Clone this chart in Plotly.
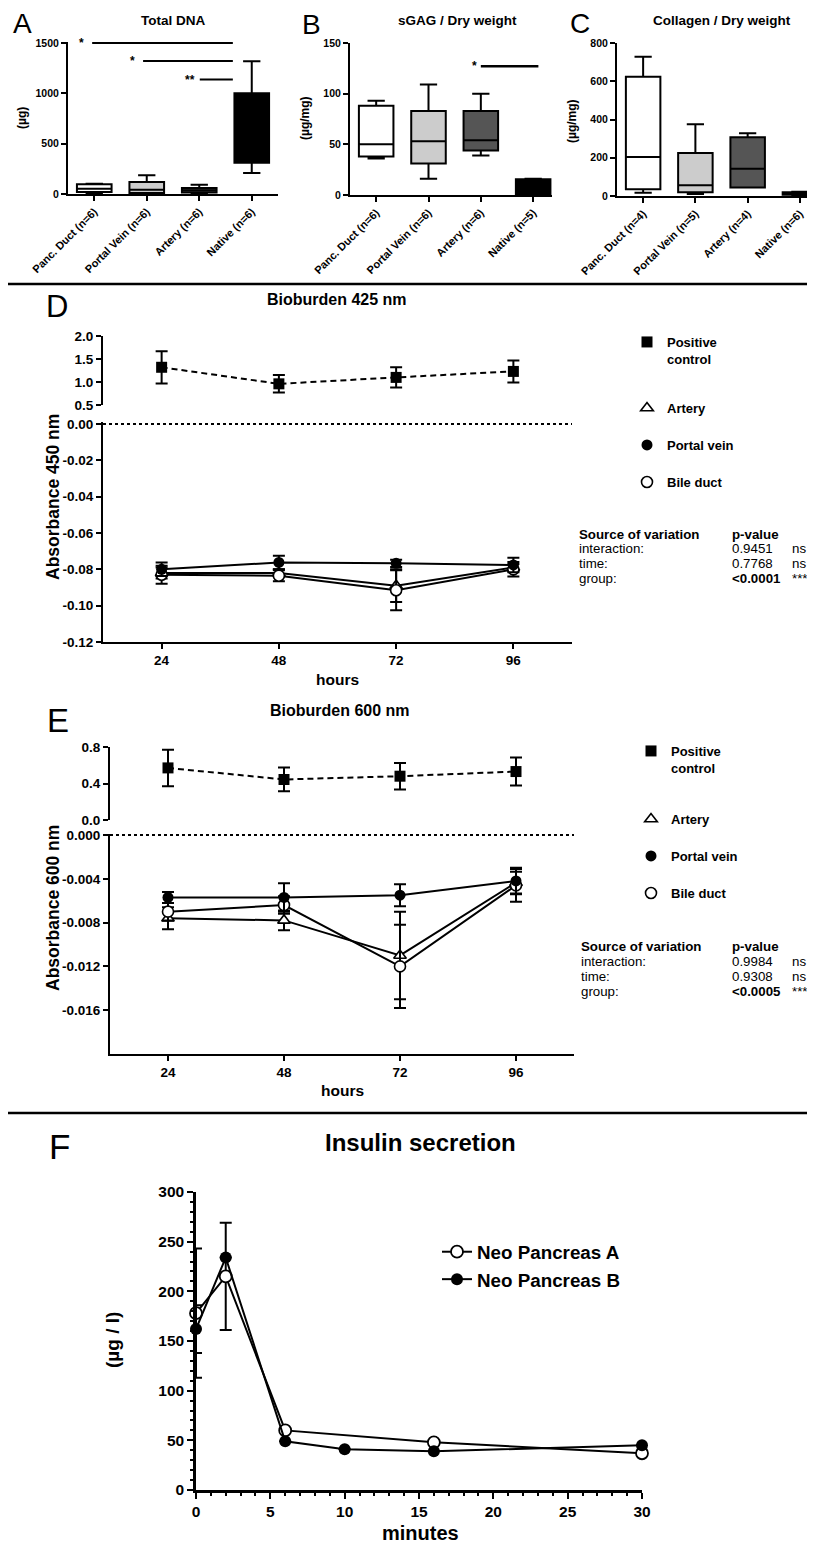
import plotly.graph_objects as go

# page is 815x1547; the html body keeps its default 8px margin, so the figure is drawn 8px in
PAGE_W, PAGE_H, OFF = 815, 1547, 8
W, H = PAGE_W - OFF, PAGE_H - OFF
FONT = "Liberation Sans"

# ---------------- data: panels A-C (box plots) ----------------
cats_A = ["Panc. Duct (n=6)", "Portal Vein (n=6)", "Artery (n=6)", "Native (n=6)"]
dna_low = [5, 0, 5, 208]
dna_q1 = [20, 10, 16, 310]
dna_med = [53, 43, 36, 620]
dna_q3 = [97, 119, 59, 1002]
dna_high = [102, 185, 92, 1319]

cats_B = ["Panc. Duct (n=6)", "Portal Vein (n=6)", "Artery (n=6)", "Native (n=5)"]
sgag_low = [36, 16, 39, 0.5]
sgag_q1 = [38, 31, 44, 1]
sgag_med = [50, 53, 54, 14]
sgag_q3 = [88, 83, 83, 15.5]
sgag_high = [93, 109, 100, 16]

cats_C = ["Panc. Duct (n=4)", "Portal Vein (n=5)", "Artery (n=4)", "Native (n=6)"]
col_low = [17, 10, 44, 3]
col_q1 = [35, 20, 45, 6]
col_med = [204, 56, 143, 13]
col_q3 = [624, 225, 307, 19]
col_high = [728, 375, 328, 22]

# significance brackets (category units / data units)
sigA_text = ["*", "*", "**"]
sigA_y = [1500, 1320, 1137]
sigA_x0 = [-0.04, 0.93, 2.01]
sigA_x1 = [2.64, 2.64, 2.64]
sigA_tx = [-0.25, 0.72, 1.83]
sigB_text = ["*"]
sigB_y = [127]
sigB_x0 = [2.0]
sigB_x1 = [3.1]
sigB_tx = [1.87]

# ---------------- data: panels D and E ----------------
hours = [24, 48, 72, 96]
d_pos = [1.32, 0.96, 1.10, 1.23]
d_pos_err = [0.35, 0.19, 0.22, 0.24]
d_artery = [-0.082, -0.082, -0.089, -0.079]
d_artery_err = [0.003, 0.002, 0.009, 0.002]
d_portal = [-0.080, -0.0762, -0.0767, -0.0776]
d_portal_err = [0.0037, 0.0037, 0.002, 0.004]
d_bile = [-0.083, -0.0835, -0.0915, -0.080]
d_bile_err = [0.005, 0.003, 0.011, 0.004]

e_pos = [0.571, 0.444, 0.48, 0.531]
e_pos_err = [0.20, 0.13, 0.145, 0.153]
e_artery = [-0.0076, -0.0078, -0.0110, -0.00435]
e_artery_err = [0.001, 0.0009, 0.004, 0.001]
e_portal = [-0.0057, -0.0057, -0.0055, -0.0042]
e_portal_err = [0.0005, 0.0013, 0.001, 0.0012]
e_bile = [-0.0070, -0.0064, -0.0120, -0.0046]
e_bile_err = [0.0008, 0.0008, 0.0038, 0.0015]

d_top_ticks = [0.5, 1.0, 1.5, 2.0]
d_low_ticks = [0.0, -0.02, -0.04, -0.06, -0.08, -0.10, -0.12]
e_top_ticks = [0.0, 0.4, 0.8]
e_low_ticks = [0.0, -0.004, -0.008, -0.012, -0.016]

stats_D = [("interaction:", "0.9451", "ns"), ("time:", "0.7768", "ns"), ("group:", "<0.0001", "***")]
stats_E = [("interaction:", "0.9984", "ns"), ("time:", "0.9308", "ns"), ("group:", "<0.0005", "***")]

# ---------------- data: panel F ----------------
min_A = [0, 2, 6, 16, 30]
ins_A = [178, 215, 60, 48, 37]
err_A = [65, 54, None, None, None]
min_B = [0, 2, 6, 10, 16, 30]
ins_B = [162, 234, 49, 41, 39, 45]
err_B = [24, None, None, None, None, None]

box_fill = ["white", "#cccccc", "#555555", "black"]

# ---------------- helpers (page pixels -> paper) ----------------
def px(x):
    return (x - OFF) / W

def py(y):
    return 1 - (y - OFF) / H

def dx(l, r):
    return [px(l), min(1.0, px(r))]

def dy_range(p0, v0, p1, v1, r0, r1):
    s = (p1 - p0) / (v1 - v0)
    a = p0 + (r0 - v0) * s
    b = p0 + (r1 - v0) * s
    top, bot = min(a, b), max(a, b)
    return [py(bot), py(top)]

def font(size, bold=True):
    return dict(family=FONT, size=size, color="black", weight="bold" if bold else "normal")

axis_base = dict(showline=True, linecolor="black", linewidth=2, ticks="outside",
                 tickcolor="black", tickwidth=2, ticklen=5, showgrid=False,
                 zeroline=False, fixedrange=True, automargin=False)

fig = go.Figure()

# ---- boxes ----
def add_boxes(cats, lo, q1, med, q3, hi, xa, ya):
    for i, c in enumerate(cats):
        fig.add_trace(go.Box(
            x=[c], lowerfence=[lo[i]], q1=[q1[i]], median=[med[i]], q3=[q3[i]],
            upperfence=[hi[i]], xaxis=xa, yaxis=ya, fillcolor=box_fill[i],
            line=dict(color="black", width=2), width=0.66, whiskerwidth=0.5,
            boxpoints=False, showlegend=False, hoverinfo="skip"))

add_boxes(cats_A, dna_low, dna_q1, dna_med, dna_q3, dna_high, "x", "y")
add_boxes(cats_B, sgag_low, sgag_q1, sgag_med, sgag_q3, sgag_high, "x2", "y2")
add_boxes(cats_C, col_low, col_q1, col_med, col_q3, col_high, "x3", "y3")

# ---- D and E series ----
STYLES = {
    "pos": dict(symbol="square", size=11, color="black"),
    "artery": dict(symbol="triangle-up", size=11, color="white", line=dict(color="black", width=1.6)),
    "portal": dict(symbol="circle", size=11, color="black"),
    "bile": dict(symbol="circle", size=11, color="white", line=dict(color="black", width=1.6)),
}

def series(x, y, err, xa, ya, kind):
    fig.add_trace(go.Scatter(
        x=x, y=y, xaxis=xa, yaxis=ya, mode="lines+markers",
        line=dict(color="black", width=2, dash="6px,4px" if kind == "pos" else "solid"),
        marker=STYLES[kind],
        error_y=dict(type="data", array=err, color="black", thickness=2, width=6),
        cliponaxis=False, showlegend=False, hoverinfo="skip"))

series(hours, d_pos, d_pos_err, "x4", "y5", "pos")
series(hours, d_artery, d_artery_err, "x4", "y4", "artery")
series(hours, d_bile, d_bile_err, "x4", "y4", "bile")
series(hours, d_portal, d_portal_err, "x4", "y4", "portal")

series(hours, e_pos, e_pos_err, "x6", "y7", "pos")
series(hours, e_artery, e_artery_err, "x6", "y6", "artery")
series(hours, e_bile, e_bile_err, "x6", "y6", "bile")
series(hours, e_portal, e_portal_err, "x6", "y6", "portal")

# legend-only entries for D and E
legend_items = [("<b>Positive<br>control</b>", "pos"), ("<b>Artery</b>", "artery"),
                ("<b>Portal vein</b>", "portal"), ("<b>Bile duct</b>", "bile")]
for k, (name, kind) in enumerate(legend_items * 2):
    fig.add_trace(go.Scatter(x=[None], y=[None], mode="markers", marker=STYLES[kind], name=name,
                             legend="legend%d" % (k + 2), showlegend=True,
                             xaxis="x4", yaxis="y4", hoverinfo="skip"))

# ---- F ----
fig.add_trace(go.Scatter(
    x=min_A, y=ins_A, xaxis="x8", yaxis="y8", mode="lines+markers", name="<b>Neo Pancreas A</b>",
    line=dict(color="black", width=2),
    marker=dict(symbol="circle", size=12, color="white", line=dict(color="black", width=1.8)),
    error_y=dict(type="data", array=err_A, color="black", thickness=2, width=6),
    cliponaxis=False, legend="legend", hoverinfo="skip"))
fig.add_trace(go.Scatter(
    x=min_B, y=ins_B, xaxis="x8", yaxis="y8", mode="lines+markers", name="<b>Neo Pancreas B</b>",
    line=dict(color="black", width=2),
    marker=dict(symbol="circle", size=12, color="black"),
    error_y=dict(type="data", array=err_B, color="black", thickness=2, width=6),
    cliponaxis=False, legend="legend", hoverinfo="skip"))

# ---------------- axes ----------------
cat_x = dict(axis_base, type="category", tickangle=-45, tickfont=font(11))
C_right = (PAGE_W - 643) / 52.3  # categories of C run off the page edge
layout = dict(
    xaxis=dict(cat_x, domain=dx(68, 278), range=[-0.5, 3.5], anchor="y"),
    yaxis=dict(axis_base, domain=dy_range(194, 0, 43, 1500, 0, 1510), range=[0, 1510],
               tickvals=[0, 500, 1000, 1500], tickfont=font(10.5), anchor="x"),
    xaxis2=dict(cat_x, domain=dx(350, 552), range=[-0.5, 3.36], anchor="y2"),
    yaxis2=dict(axis_base, domain=dy_range(195, 0, 43, 150, 0, 150), range=[0, 150],
                tickvals=[0, 50, 100, 150], tickfont=font(10.5), anchor="x2"),
    xaxis3=dict(cat_x, domain=dx(617, PAGE_W), range=[-0.5, C_right], anchor="y3"),
    yaxis3=dict(axis_base, domain=dy_range(196, 0, 43, 800, 0, 800), range=[0, 800],
                tickvals=[0, 200, 400, 600, 800], tickfont=font(10.5), anchor="x3"),
    xaxis4=dict(axis_base, domain=dx(103, 572), range=[12, 108], tickvals=hours,
                tickfont=font(13.5), anchor="y4"),
    yaxis4=dict(axis_base, domain=dy_range(424, 0, 642, -0.12, -0.12, 0.001), range=[-0.12, 0.001],
                tickvals=d_low_ticks, ticktext=["%.2f" % v for v in d_low_ticks],
                tickfont=font(13.5), anchor="x4"),
    yaxis5=dict(axis_base, domain=dy_range(405, 0.5, 336, 2.0, 0.5, 2.0), range=[0.5, 2.0],
                tickvals=d_top_ticks, ticktext=["%.1f" % v for v in d_top_ticks],
                tickfont=font(13.5), anchor="x4"),
    xaxis6=dict(axis_base, domain=dx(110, 574), range=[12, 108], tickvals=hours,
                tickfont=font(13.5), anchor="y6"),
    yaxis6=dict(axis_base, domain=dy_range(835, 0, 1054, -0.020, -0.020, 0.0001), range=[-0.020, 0.0001],
                tickvals=e_low_ticks, ticktext=["%.3f" % v for v in e_low_ticks],
                tickfont=font(13.5), anchor="x6"),
    yaxis7=dict(axis_base, domain=dy_range(820, 0, 747, 0.8, 0, 0.8), range=[0, 0.8],
                tickvals=e_top_ticks, ticktext=["%.1f" % v for v in e_top_ticks],
                tickfont=font(13.5), anchor="x6"),
    xaxis8=dict(axis_base, domain=dx(196, 642), range=[0, 30], dtick=5, tick0=0,
                linewidth=2.5, ticklen=6, tickfont=font(15.5), anchor="y8",
                minor=dict(dtick=1, ticks="outside", ticklen=3, tickwidth=1.5, tickcolor="black")),
    yaxis8=dict(axis_base, domain=dy_range(1490, 0, 1192, 300, 0, 300), range=[0, 300], dtick=50, tick0=0,
                linewidth=2.5, ticklen=6, tickfont=font(15.5), anchor="x8",
                minor=dict(dtick=10, ticks="outside", ticklen=3, tickwidth=1.5, tickcolor="black")),
)

# ---------------- legends ----------------
def leg(xp, yp, size=13, yanchor="middle", valign="middle"):
    return dict(x=px(xp), y=py(yp), xanchor="left", yanchor=yanchor, valign=valign,
                bgcolor="rgba(0,0,0,0)", borderwidth=0, font=dict(family=FONT, size=size, color="black"),
                itemwidth=30, tracegroupgap=0, itemclick=False, itemdoubleclick=False)

layout["legend2"] = leg(627, 327, yanchor="top", valign="top")
layout["legend3"] = leg(627, 408)
layout["legend4"] = leg(627, 445)
layout["legend5"] = leg(627, 482)
layout["legend6"] = leg(631, 736, yanchor="top", valign="top")
layout["legend7"] = leg(631, 819)
layout["legend8"] = leg(631, 856)
layout["legend9"] = leg(631, 893)
layout["legend"] = leg(437, 1265.5, size=18.8)

# ---------------- annotations ----------------
ann = []
def txt(s, xp, yp, size, bold=True, xanchor="center", angle=0):
    ann.append(dict(text=s, x=px(xp), y=py(yp), xref="paper", yref="paper",
                    xanchor=xanchor, yanchor="middle", showarrow=False, textangle=angle,
                    font=font(size, bold)))

txt("A", 11, 23.5, 28, bold=False, xanchor="left")
txt("B", 300, 24, 28, bold=False, xanchor="left")
txt("C", 568, 23, 28, bold=False, xanchor="left")
txt("D", 44, 306, 31, bold=False, xanchor="left")
txt("E", 45, 721, 33, bold=False, xanchor="left")
txt("F", 47, 1146, 35, bold=False, xanchor="left")

txt("Total DNA", 173, 20, 13.5)
txt("sGAG / Dry weight", 457, 20, 13.5)
txt("Collagen / Dry weight", 722, 20, 13.5)
txt("(µg)", 22, 118, 12, angle=-90)
txt("(µg/mg)", 305, 118, 12, angle=-90)
txt("(µg/mg)", 572, 121, 12, angle=-90)

txt("Bioburden 425 nm", 337, 299, 16)
txt("Bioburden 600 nm", 340, 710, 16)
txt("Absorbance 450 nm", 53, 497, 17.5, angle=-90)
txt("Absorbance 600 nm", 53, 908, 17.5, angle=-90)
txt("hours", 337, 679, 15.5)
txt("hours", 342, 1090, 15.5)

txt("Insulin secretion", 420, 1142, 24)
txt("(µg / l)", 112, 1340, 19, angle=-90)
txt("minutes", 420, 1533, 20)

def stats(rows, x0, y0, step):
    txt("Source of variation", x0, y0, 13.3, xanchor="left")
    txt("p-value", 730, y0, 13.3, xanchor="left")
    for k, (a, b, c) in enumerate(rows):
        yy = y0 + step * (k + 1)
        last = k == len(rows) - 1
        txt(a, x0, yy, 13.3, bold=False, xanchor="left")
        txt(b, 730, yy, 13.3, bold=last, xanchor="left")
        txt(c, 790, yy, 13.3, bold=False, xanchor="left")

stats(stats_D, 577, 534, 14.7)
stats(stats_E, 579, 946, 15)

# significance marks A/B (data coordinates)
for t, yv, tx in zip(sigA_text, sigA_y, sigA_tx):
    ann.append(dict(text=t, x=tx, y=yv, xref="x", yref="y", showarrow=False,
                    xanchor="center", yanchor="middle", font=font(12)))
for t, yv, tx in zip(sigB_text, sigB_y, sigB_tx):
    ann.append(dict(text=t, x=tx, y=yv, xref="x2", yref="y2", showarrow=False,
                    xanchor="center", yanchor="middle", font=font(12)))

# ---------------- shapes ----------------
shapes = []
for yv, a, b in zip(sigA_y, sigA_x0, sigA_x1):
    shapes.append(dict(type="line", xref="x", yref="y", x0=a, x1=b, y0=yv, y1=yv,
                       line=dict(color="black", width=2)))
for yv, a, b in zip(sigB_y, sigB_x0, sigB_x1):
    shapes.append(dict(type="line", xref="x2", yref="y2", x0=a, x1=b, y0=yv, y1=yv,
                       line=dict(color="black", width=2.5)))
# dotted zero lines
shapes.append(dict(type="line", xref="x4", yref="y4", x0=12, x1=108, y0=0, y1=0,
                   line=dict(color="black", width=2, dash="dot")))
shapes.append(dict(type="line", xref="x6", yref="y6", x0=12, x1=108, y0=0, y1=0,
                   line=dict(color="black", width=2, dash="dot")))
# panel separators
for yp in [284, 1113]:
    shapes.append(dict(type="line", xref="paper", yref="paper", x0=px(8), x1=1,
                       y0=py(yp), y1=py(yp), line=dict(color="black", width=2.5)))

fig.update_layout(
    width=W, height=H, margin=dict(l=0, r=0, t=0, b=0, pad=0, autoexpand=False),
    paper_bgcolor="white", plot_bgcolor="white",
    font=dict(family=FONT, color="black"),
    annotations=ann, shapes=shapes, boxmode="overlay",
    **layout)

fig.write_html("out.html")
